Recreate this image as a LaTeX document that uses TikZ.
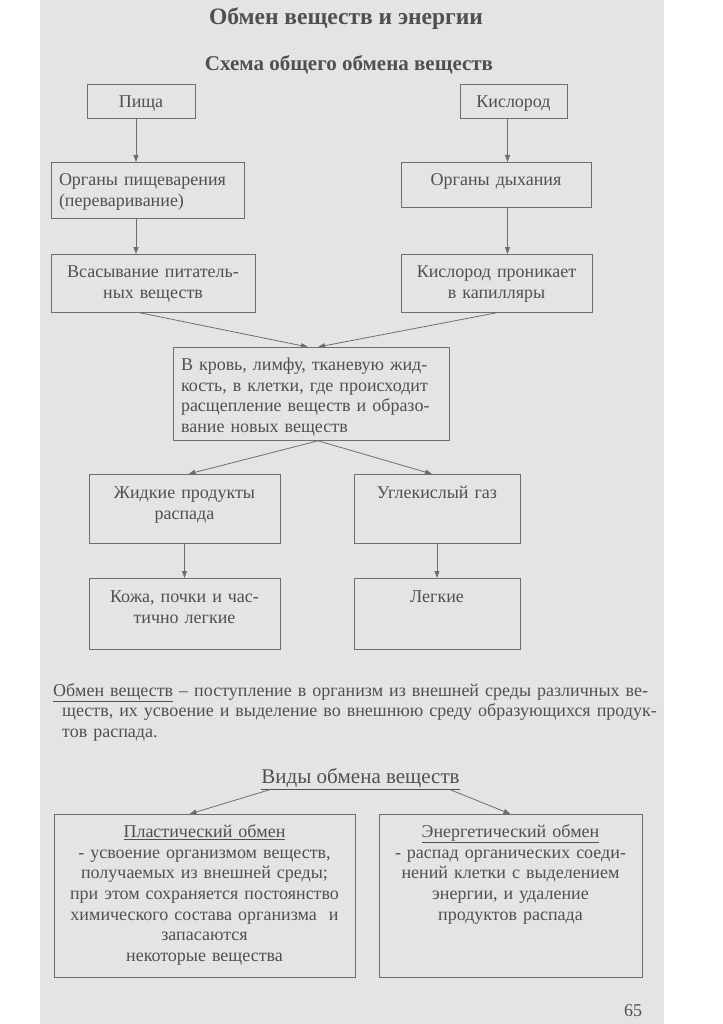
\documentclass[tikz,border=0pt]{standalone}
\usepackage{fontspec}
\setmainfont{Liberation Serif}
\usetikzlibrary{arrows.meta,positioning}
\definecolor{page}{HTML}{E4E4E4}
\definecolor{ink}{HTML}{505050}
\definecolor{rule}{HTML}{6E6E6E}

\begin{document}
\begin{tikzpicture}[x=1pt,y=-1pt,
  box/.style={draw=rule, line width=0.8pt, text=ink, anchor=north,
    inner xsep=8pt, inner ysep=0pt, text height=23pt,
    font=\fontsize{18}{20.7}\selectfont},
  txt/.style={text=ink, inner sep=0pt, font=\fontsize{18}{20.7}\selectfont},
  arr/.style={draw=rule, line width=0.8pt, -{Triangle[length=7pt,width=5pt]}}]
\useasboundingbox (0,0) rectangle (722,1024);
\fill[page] (40,0) rectangle (664,1024);

\node[txt, anchor=base, font=\bfseries\fontsize{23.5}{26}\selectfont] (title) at (346,25) {Обмен веществ и энергии};
\node[txt, anchor=base, font=\bfseries\fontsize{21}{24}\selectfont] (subtitle) at (349,71) {Схема общего обмена веществ};

% top row
\node[box, text width=92pt, text depth=11pt, align=center] (food) at (141,84) {Пища};
\node[box, text width=91pt, text depth=11pt, align=center] (oxygen) at (513.5,84) {Кислород};

\node[box, text width=177pt, text depth=33pt, align=left] (digest) at (147.5,162) {Органы пищеварения\\(переваривание)};
\node[box, text width=174pt, text depth=22pt, align=center] (breath) at (496,162) {Органы дыхания};

\node[box, text width=188pt, text depth=35pt, align=center] (absorb) at (153,254) {Всасывание питатель-\\ных веществ};
\node[box, text width=175pt, text depth=35pt, align=center] (capill) at (496.5,254) {Кислород проникает\\в капилляры};

% middle
\node[box, text width=260pt, text depth=70pt, align=left] (blood) at (311,347) {В кровь, лимфу, тканевую жид-\\кость, в клетки, где происходит\\расщепление веществ и образо-\\вание новых веществ};

\node[box, text width=175pt, text height=24pt, text depth=45pt, align=center] (liquid) at (184.5,474) {Жидкие продукты\\распада};
\node[box, text width=150pt, text height=24pt, text depth=45pt, align=center] (carbon) at (437,474) {Углекислый газ};

\node[box, text width=175pt, text height=24pt, text depth=47pt, align=center] (skin) at (184.5,578) {Кожа, почки и час-\\тично легкие};
\node[box, text width=150pt, text height=24pt, text depth=47pt, align=center] (lungs) at (437,578) {Легкие};

\draw[arr] ([xshift=-5pt]food.south) -- ([xshift=-5pt]food.south |- digest.north);
\draw[arr] ([xshift=-5pt]food.south |- digest.south) -- ([xshift=-5pt]food.south |- absorb.north);
\draw[arr] ([xshift=-6pt]oxygen.south) -- ([xshift=-6pt]oxygen.south |- breath.north);
\draw[arr] ([xshift=-6pt]oxygen.south |- breath.south) -- ([xshift=-6pt]oxygen.south |- capill.north);
\draw[arr] ([xshift=-13pt]absorb.south) -- ([xshift=-3pt]blood.north);
\draw[arr] (capill.south) -- ([xshift=7pt]blood.north);
\draw[arr] ([xshift=7pt]blood.south) -- ([xshift=4pt]liquid.north);
\draw[arr] ([xshift=7pt]blood.south) -- ([xshift=-5pt]carbon.north);
\draw[arr] (liquid.south) -- (skin.north);
\draw[arr] (carbon.south) -- (lungs.north);

% definition
\node[txt, anchor=base west, text width=615pt, align=left] (defin) at (53,696)
  {\underline{Обмен веществ} – поступление в организм из внешней среды различных ве-\\
   \hspace*{9pt}ществ, их усвоение и выделение во внешнюю среду образующихся продук-\\
   \hspace*{9pt}тов распада.};

% kinds
\node[txt, anchor=base, font=\fontsize{21}{24}\selectfont] (kinds) at (360.5,783) {\underline{Виды обмена веществ}};

\node[box, text width=285pt, text depth=140pt, align=center] (plastic) at (204.5,814)
  {\underline{Пластический обмен}\\- усвоение организмом веществ,\\получаемых из внешней среды;\\при этом сохраняется постоянство\\химического состава организма\ \ и\\запасаются\\некоторые вещества};
\node[box, text width=247pt, text depth=140pt, align=center] (energy) at (510.5,814)
  {\underline{Энергетический обмен}\\- распад органических соеди-\\нений клетки с выделением\\энергии, и удаление\\продуктов распада};

\draw[arr] ([xshift=9pt]kinds.south west) -- ([xshift=-15pt]plastic.north);
\draw[arr] ([xshift=-10pt]kinds.south east) -- (energy.north);

\node[txt, anchor=base] (pagenum) at (633,1016) {65};
\end{tikzpicture}
\end{document}
